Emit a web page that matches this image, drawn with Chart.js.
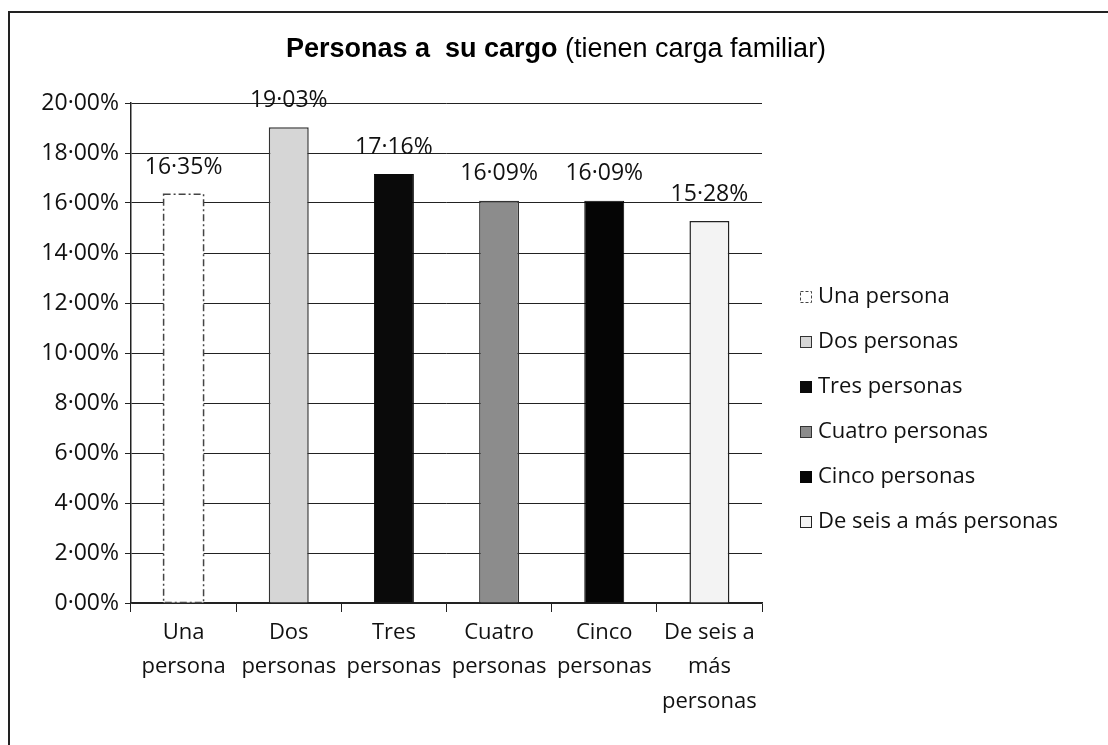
<!DOCTYPE html>
<html>
<head>
<meta charset="utf-8">
<script src="https://cdn.jsdelivr.net/npm/chart.js@4"></script>
<style>
  html, body { margin: 0; padding: 0; background: #fff; }
  #wrap { width: 1108px; height: 745px; position: relative; }
</style>
</head>
<body>
<div id="wrap"><canvas id="cargaChart"></canvas></div>
<script>
// Datos del grafico
var categorias = [['Una', 'persona'], ['Dos', 'personas'], ['Tres', 'personas'], ['Cuatro', 'personas'], ['Cinco', 'personas'], ['De seis a', 'más', 'personas']];
var leyenda = ['Una persona', 'Dos personas', 'Tres personas', 'Cuatro personas', 'Cinco personas', 'De seis a más personas'];
var porcentajes = [16.35, 19.03, 17.16, 16.09, 16.09, 15.28];
var ejeMax = 20;
var ejePaso = 2;

// estilos de cada barra
var rellenos = ['#ffffff', '#d6d6d6', '#0a0a0a', '#8c8c8c', '#050505', '#f3f3f3'];
var bordes = ['#444444', '#333333', '#0a0a0a', '#333333', '#050505', '#222222'];

var fuente = '"Open Sans", sans-serif';

function fmt(v) {
    return v.toFixed(2).replace('.', '·') + '%';
}

// marco, titulo, etiquetas y leyenda
var extras = {
    id: 'extras',
    beforeDraw: function(chart) {
        var ctx = chart.ctx;
        ctx.save();
        ctx.fillStyle = '#fff';
        ctx.fillRect(0, 0, chart.width, chart.height);
        ctx.strokeStyle = '#222';
        ctx.lineWidth = 2;
        ctx.beginPath();
        ctx.moveTo(1108, 12);
        ctx.lineTo(9, 12);
        ctx.lineTo(9, 745);
        ctx.stroke();
        ctx.restore();
    },
    afterDatasetsDraw: function(chart) {
        var ctx = chart.ctx;
        var meta = chart.getDatasetMeta(0);
        ctx.save();
        // borde discontinuo de la primera barra
        var b = meta.data[0];
        ctx.strokeStyle = '#444';
        ctx.lineWidth = 1.5;
        ctx.setLineDash([7, 3, 2, 3]);
        ctx.strokeRect(b.x - b.width / 2, b.y, b.width, b.base - b.y);
        ctx.setLineDash([]);
        // valores encima de las barras
        ctx.fillStyle = '#111';
        ctx.font = '23px ' + fuente;
        ctx.textAlign = 'center';
        ctx.textBaseline = 'middle';
        meta.data.forEach(function(bar, i) {
            ctx.fillText(fmt(porcentajes[i]), bar.x, bar.y - 27);
        });

        // titulo con parte en negrita
        var t1 = 'Personas a  su cargo';
        var t2 = ' (tienen carga familiar)';
        var fb = 'bold 27px "Liberation Sans", Arial, sans-serif';
        var fn = '27px "Liberation Sans", Arial, sans-serif';
        ctx.font = fb;
        var w1 = ctx.measureText(t1).width;
        ctx.font = fn;
        var w2 = ctx.measureText(t2).width;
        var x0 = 556 - (w1 + w2) / 2;
        ctx.textAlign = 'left';
        ctx.fillStyle = '#000';
        ctx.font = fb;
        ctx.fillText(t1, x0, 50);
        ctx.font = fn;
        ctx.fillText(t2, x0 + w1, 50);

        // leyenda a la derecha
        ctx.font = '22px ' + fuente;
        leyenda.forEach(function(txt, i) {
            var y = 297 + i * 45;
            ctx.fillStyle = rellenos[i];
            ctx.fillRect(800, y - 6, 12, 12);
            ctx.strokeStyle = bordes[i];
            ctx.lineWidth = 1;
            if (i === 0) ctx.setLineDash([3, 2]);
            ctx.strokeRect(800.5, y - 5.5, 11, 11);
            ctx.setLineDash([]);
            ctx.fillStyle = '#111';
            ctx.fillText(txt, 818, y);
        });
        ctx.restore();
    }
};

var ctxCarga = document.getElementById('cargaChart').getContext('2d');
var cargaChart = new Chart(ctxCarga, {
    type: 'bar',
    data: {
        labels: categorias,
        datasets: [{
            label: 'Personas a su cargo',
            data: porcentajes,
            backgroundColor: rellenos,
            borderColor: bordes,
            borderWidth: [0, 1.5, 1, 1.5, 1, 1.5],
            categoryPercentage: 1,
            barPercentage: 0.38
        }]
    },
    options: {
        responsive: true,
        maintainAspectRatio: false,
        animation: false,
        layout: {
            padding: { left: 10, right: 346, top: 103, bottom: 0 }
        },
        plugins: {
            legend: { display: false },
            title: { display: false },
            tooltip: { enabled: false }
        },
        scales: {
            x: {
                grid: {
                    drawOnChartArea: false,
                    drawTicks: true,
                    tickLength: 9,
                    color: '#222',
                    offset: true
                },
                border: { display: true, color: '#222', width: 1.5 },
                ticks: {
                    color: '#111',
                    padding: 4,
                    maxRotation: 0,
                    autoSkip: false,
                    font: { family: fuente, size: 22, lineHeight: 1.55 }
                },
                afterFit: function(s) { s.height = 142; }
            },
            y: {
                min: 0,
                max: ejeMax,
                ticks: {
                    stepSize: ejePaso,
                    color: '#111',
                    padding: 6,
                    font: { family: fuente, size: 23 },
                    callback: function(v) { return fmt(v); }
                },
                grid: {
                    color: '#222',
                    lineWidth: 1,
                    tickLength: 6
                },
                border: { display: true, color: '#222', width: 1.5 },
                afterFit: function(s) { s.width = 121; }
            }
        }
    },
    plugins: [extras]
});
</script>
</body>
</html>
